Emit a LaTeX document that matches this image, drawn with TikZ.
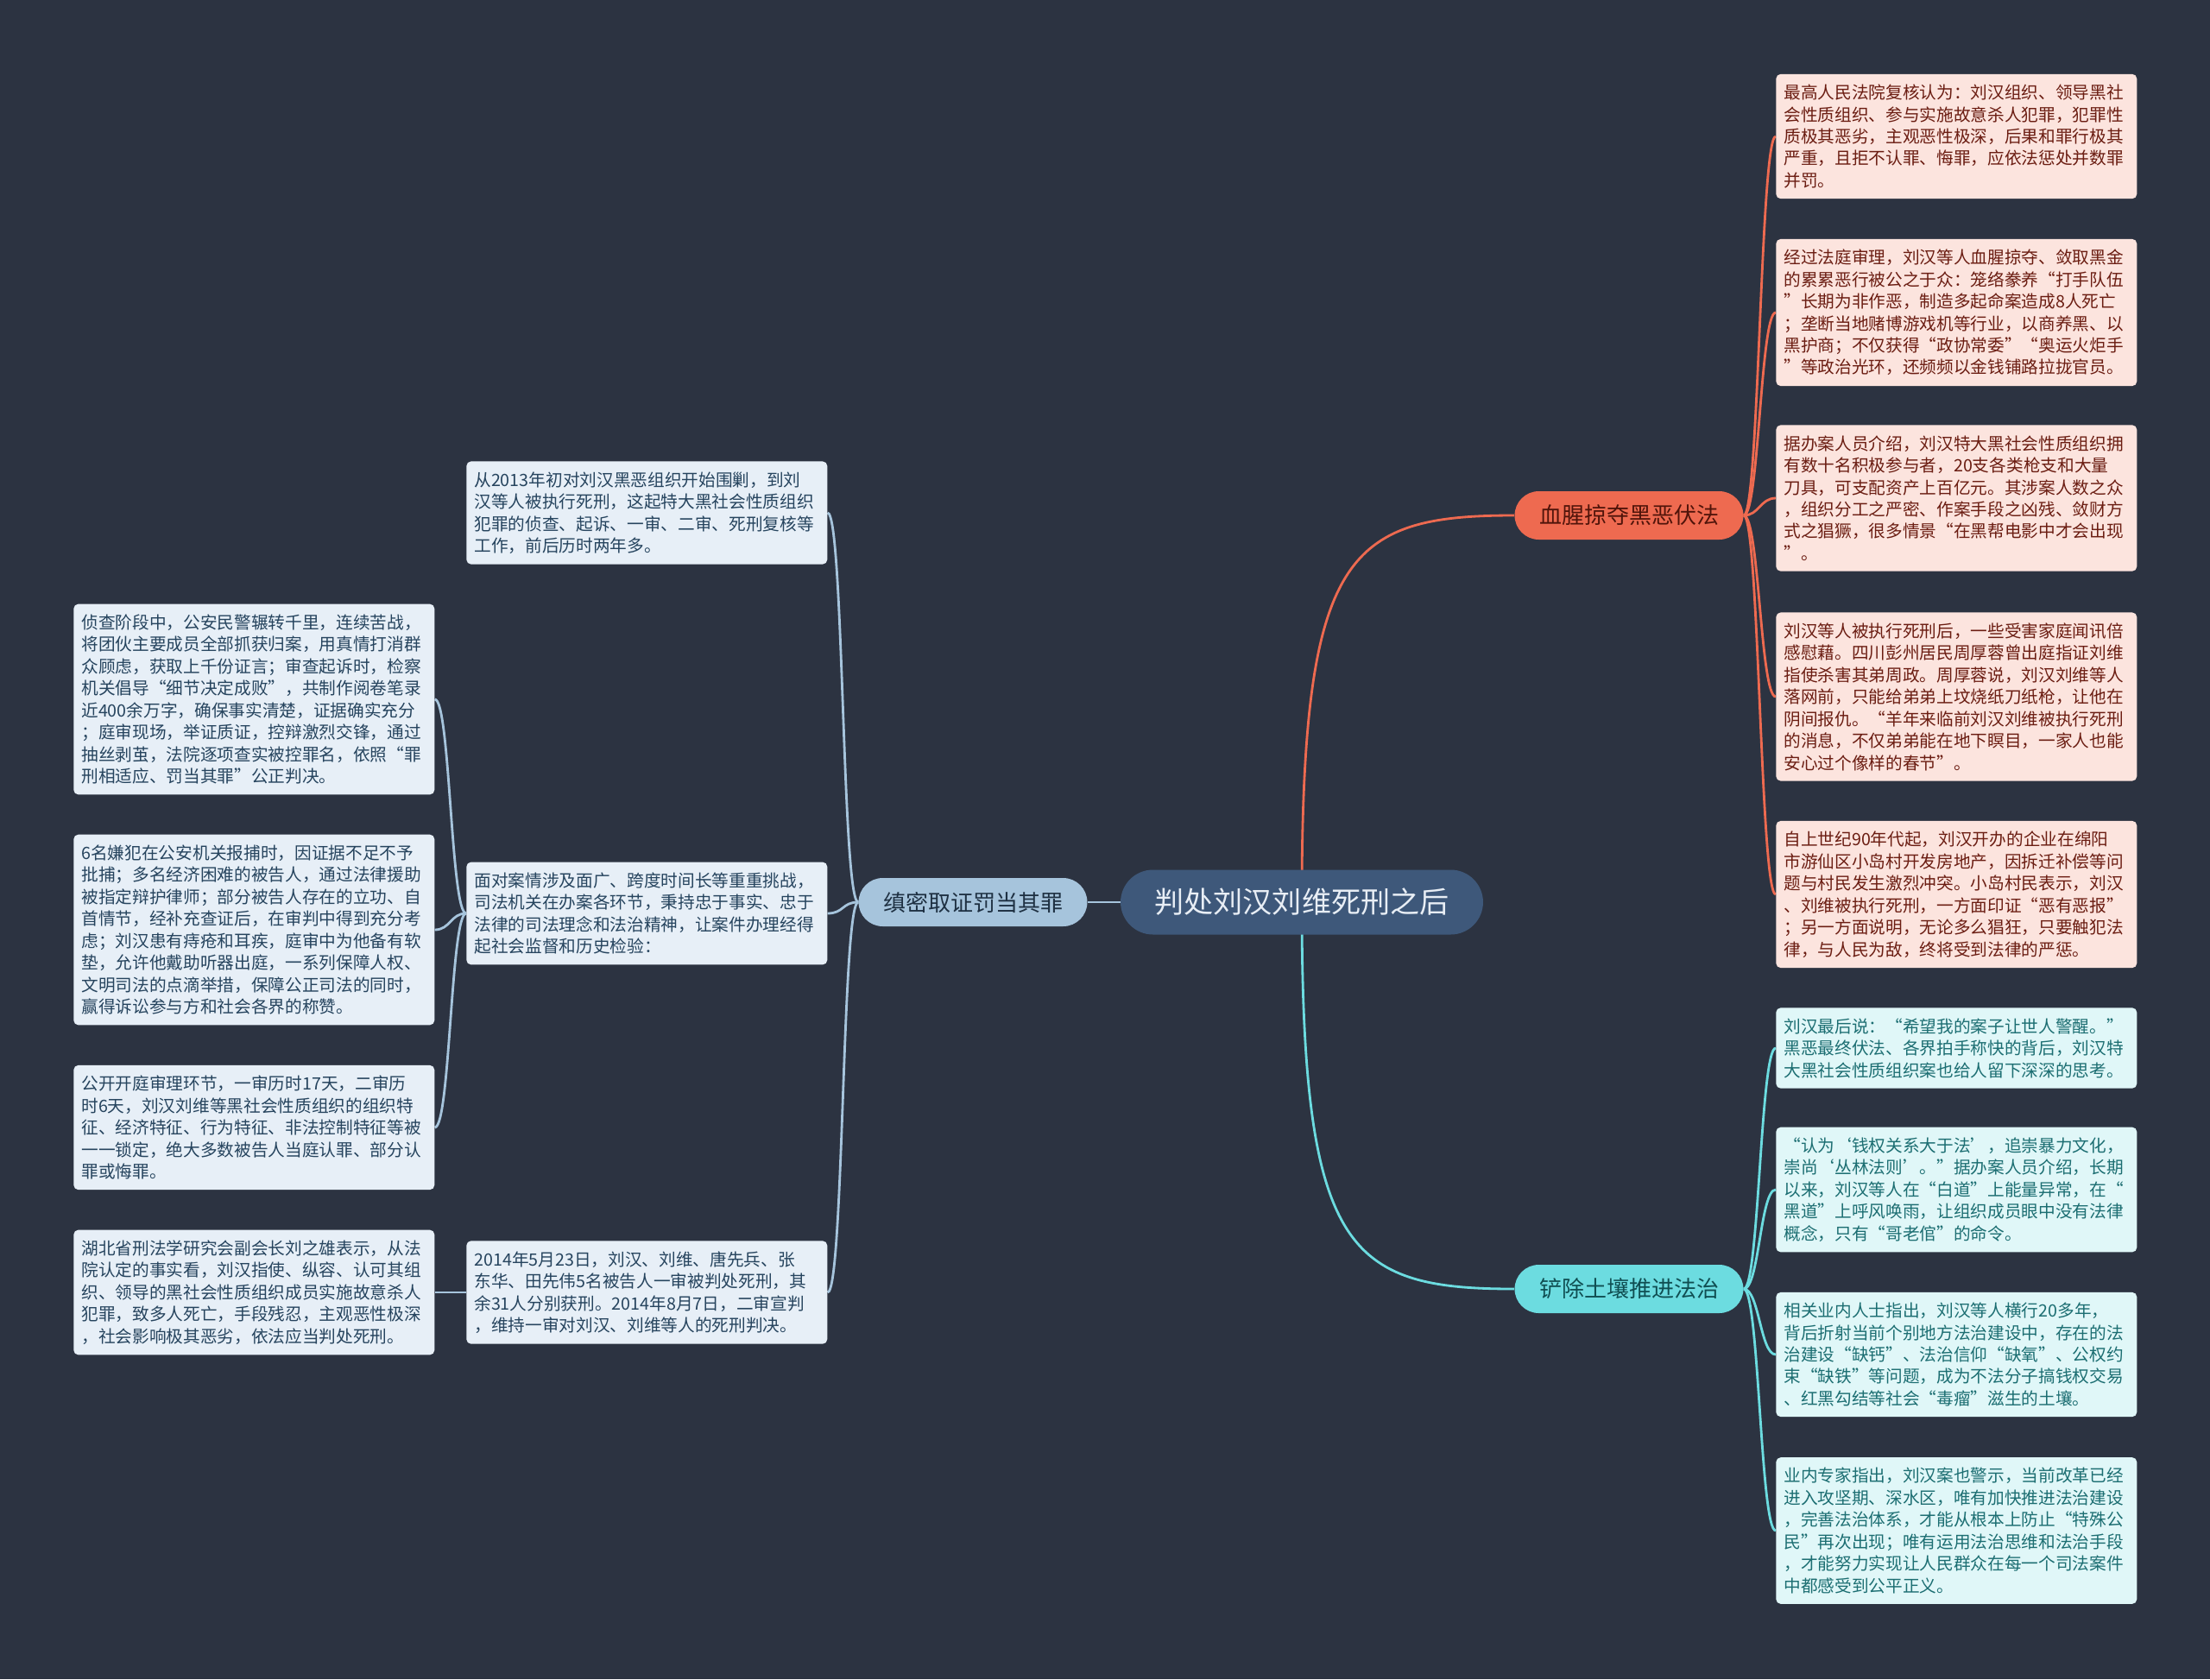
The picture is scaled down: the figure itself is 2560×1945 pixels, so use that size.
\documentclass[tikz,border=0pt]{standalone}
\usepackage{fontspec}
\setmainfont{Noto Sans CJK SC}
\usepackage{tikz}
\usetikzlibrary{positioning,calc,backgrounds}
\definecolor{bgnavy}{RGB}{44,51,65}
\definecolor{rootC}{RGB}{62,88,122}
\definecolor{rootT}{RGB}{232,238,245}
\definecolor{proofC}{RGB}{166,196,220}
\definecolor{proofT}{RGB}{30,48,66}
\definecolor{proofBox}{RGB}{231,239,247}
\definecolor{proofBoxT}{RGB}{38,68,94}
\definecolor{crimeC}{RGB}{238,106,80}
\definecolor{crimeT}{RGB}{80,20,10}
\definecolor{crimeBox}{RGB}{252,228,222}
\definecolor{crimeBoxT}{RGB}{107,29,18}
\definecolor{soilC}{RGB}{108,220,224}
\definecolor{soilT}{RGB}{16,78,82}
\definecolor{soilBox}{RGB}{224,247,248}
\definecolor{soilBoxT}{RGB}{28,110,114}
\tikzset{
  leaf/.style={rectangle, rounded corners=3pt, anchor=west, text width=8cm,
               align=left, inner xsep=0.18cm, inner ysep=0.24cm,
               font=\fontsize{11.2}{14.5}\selectfont},
  pill/.style={rectangle, rounded corners=0.56cm, minimum height=1.12cm,
               minimum width=5.3cm, inner sep=0pt,
               font=\fontsize{14.8}{16}\selectfont},
  link/.style={line width=1.6pt},
}

\begin{document}
\begin{tikzpicture}[
  x=0.02cm, y=-0.02cm,
  rootnode/.style={pill, fill=rootC, text=rootT, minimum width=8.4cm,
                   minimum height=1.5cm, rounded corners=0.75cm,
                   font=\fontsize{19.4}{21}\selectfont},
  proofleaf/.style={leaf, fill=proofBox, text=proofBoxT},
  crimeleaf/.style={leaf, fill=crimeBox, text=crimeBoxT},
  soilleaf/.style={leaf, fill=soilBox, text=soilBoxT},
]
  \useasboundingbox (0,0) rectangle (2560,1945);
  \begin{scope}[on background layer]
    \fill[bgnavy] (0,0) rectangle (2560,1945);
  \end{scope}

  \node[rootnode] (root) at (1508,1045) {判处刘汉刘维死刑之后};
  \node[pill, fill=proofC, text=proofT] (proof) at (1127,1045) {缜密取证罚当其罪};
  \node[pill, fill=crimeC, text=crimeT] (crime) at (1887,597) {血腥掠夺黑恶伏法};
  \node[pill, fill=soilC, text=soilT] (soil) at (1887,1493) {铲除土壤推进法治};

  \node[crimeleaf] (c1) at (2057,158) {最高人民法院复核认为：刘汉组织、领导黑社\\会性质组织、参与实施故意杀人犯罪，犯罪性\\质极其恶劣，主观恶性极深，后果和罪行极其\\严重，且拒不认罪、悔罪，应依法惩处并数罪\\并罚。};
  \node[crimeleaf] (c2) at (2057,362) {经过法庭审理，刘汉等人血腥掠夺、敛取黑金\\的累累恶行被公之于众：笼络豢养“打手队伍\\”长期为非作恶，制造多起命案造成8人死亡\\；垄断当地赌博游戏机等行业，以商养黑、以\\黑护商；不仅获得“政协常委”“奥运火炬手\\”等政治光环，还频频以金钱铺路拉拢官员。};
  \node[crimeleaf] (c3) at (2057,577) {据办案人员介绍，刘汉特大黑社会性质组织拥\\有数十名积极参与者，20支各类枪支和大量\\刀具，可支配资产上百亿元。其涉案人数之众\\，组织分工之严密、作案手段之凶残、敛财方\\式之猖獗，很多情景“在黑帮电影中才会出现\\”。};
  \node[crimeleaf] (c4) at (2057,807) {刘汉等人被执行死刑后，一些受害家庭闻讯倍\\感慰藉。四川彭州居民周厚蓉曾出庭指证刘维\\指使杀害其弟周政。周厚蓉说，刘汉刘维等人\\落网前，只能给弟弟上坟烧纸刀纸枪，让他在\\阴间报仇。“羊年来临前刘汉刘维被执行死刑\\的消息，不仅弟弟能在地下瞑目，一家人也能\\安心过个像样的春节”。};
  \node[crimeleaf] (c5) at (2057,1036) {自上世纪90年代起，刘汉开办的企业在绵阳\\市游仙区小岛村开发房地产，因拆迁补偿等问\\题与村民发生激烈冲突。小岛村民表示，刘汉\\、刘维被执行死刑，一方面印证“恶有恶报”\\；另一方面说明，无论多么猖狂，只要触犯法\\律，与人民为敌，终将受到法律的严惩。};

  \node[soilleaf] (s1) at (2057,1214) {刘汉最后说：“希望我的案子让世人警醒。”\\黑恶最终伏法、各界拍手称快的背后，刘汉特\\大黑社会性质组织案也给人留下深深的思考。};
  \node[soilleaf] (s2) at (2057,1378) {“认为‘钱权关系大于法’，追崇暴力文化，\\崇尚‘丛林法则’。”据办案人员介绍，长期\\以来，刘汉等人在“白道”上能量异常，在“\\黑道”上呼风唤雨，让组织成员眼中没有法律\\概念，只有“哥老倌”的命令。};
  \node[soilleaf] (s3) at (2057,1569) {相关业内人士指出，刘汉等人横行20多年，\\背后折射当前个别地方法治建设中，存在的法\\治建设“缺钙”、法治信仰“缺氧”、公权约\\束“缺铁”等问题，成为不法分子搞钱权交易\\、红黑勾结等社会“毒瘤”滋生的土壤。};
  \node[soilleaf] (s4) at (2057,1773) {业内专家指出，刘汉案也警示，当前改革已经\\进入攻坚期、深水区，唯有加快推进法治建设\\，完善法治体系，才能从根本上防止“特殊公\\民”再次出现；唯有运用法治思维和法治手段\\，才能努力实现让人民群众在每一个司法案件\\中都感受到公平正义。};

  \node[proofleaf] (p1) at (540,594) {从2013年初对刘汉黑恶组织开始围剿，到刘\\汉等人被执行死刑，这起特大黑社会性质组织\\犯罪的侦查、起诉、一审、二审、死刑复核等\\工作，前后历时两年多。};
  \node[proofleaf] (p2) at (540,1058) {面对案情涉及面广、跨度时间长等重重挑战，\\司法机关在办案各环节，秉持忠于事实、忠于\\法律的司法理念和法治精神，让案件办理经得\\起社会监督和历史检验：};
  \node[proofleaf] (p3) at (540,1497) {2014年5月23日，刘汉、刘维、唐先兵、张\\东华、田先伟5名被告人一审被判处死刑，其\\余31人分别获刑。2014年8月7日，二审宣判\\，维持一审对刘汉、刘维等人的死刑判决。};

  \node[proofleaf] (q1) at (85,810) {侦查阶段中，公安民警辗转千里，连续苦战，\\将团伙主要成员全部抓获归案，用真情打消群\\众顾虑，获取上千份证言；审查起诉时，检察\\机关倡导“细节决定成败”，共制作阅卷笔录\\近400余万字，确保事实清楚，证据确实充分\\；庭审现场，举证质证，控辩激烈交锋，通过\\抽丝剥茧，法院逐项查实被控罪名，依照“罪\\刑相适应、罚当其罪”公正判决。};
  \node[proofleaf] (q2) at (85,1077) {6名嫌犯在公安机关报捕时，因证据不足不予\\批捕；多名经济困难的被告人，通过法律援助\\被指定辩护律师；部分被告人存在的立功、自\\首情节，经补充查证后，在审判中得到充分考\\虑；刘汉患有痔疮和耳疾，庭审中为他备有软\\垫，允许他戴助听器出庭，一系列保障人权、\\文明司法的点滴举措，保障公正司法的同时，\\赢得诉讼参与方和社会各界的称赞。};
  \node[proofleaf] (q3) at (85,1306) {公开开庭审理环节，一审历时17天，二审历\\时6天，刘汉刘维等黑社会性质组织的组织特\\征、经济特征、行为特征、非法控制特征等被\\一一锁定，绝大多数被告人当庭认罪、部分认\\罪或悔罪。};
  \node[proofleaf] (q4) at (85,1497) {湖北省刑法学研究会副会长刘之雄表示，从法\\院认定的事实看，刘汉指使、纵容、认可其组\\织、领导的黑社会性质组织成员实施故意杀人\\犯罪，致多人死亡，手段残忍，主观恶性极深\\，社会影响极其恶劣，依法应当判处死刑。};

  \begin{scope}[on background layer]
    \draw[link, proofC] (root.west) -- (proof.east);
    \draw[link, crimeC] (root.center) .. controls ($(root.center |- crime.west)+(0,45)$) and ($(crime.west)+(-195,0)$) .. (crime.west);
    \draw[link, soilC] (root.center) .. controls ($(root.center |- soil.west)+(0,-45)$) and ($(soil.west)+(-195,0)$) .. (soil.west);
    \foreach \b in {c1,c2,c3,c4,c5}
      \draw[link, crimeC] (crime.east) .. controls +(18,0) and +(-18,0) .. (\b.west);
    \foreach \b in {s1,s2,s3,s4}
      \draw[link, soilC] (soil.east) .. controls +(18,0) and +(-18,0) .. (\b.west);
    \foreach \b in {p1,p2,p3}
      \draw[link, proofC] (proof.west) .. controls +(-19,0) and +(19,0) .. (\b.east);
    \foreach \b in {q1,q2,q3}
      \draw[link, proofC] (p2.west) .. controls +(-18,0) and +(18,0) .. (\b.east);
    \draw[link, proofC] (p3.west) -- (q4.east);
  \end{scope}
\end{tikzpicture}
\end{document}
